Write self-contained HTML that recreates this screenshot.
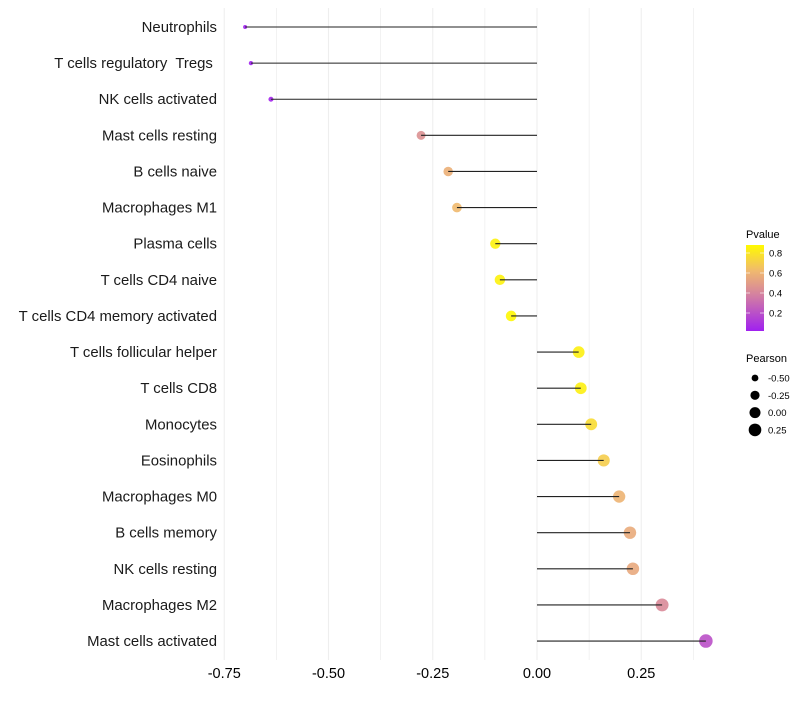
<!DOCTYPE html>
<html><head><meta charset="utf-8"><style>
html,body{margin:0;padding:0;background:#fff;}
svg text{font-family:"Liberation Sans",sans-serif;white-space:pre;}
</style></head><body>
<svg id="chart" width="800" height="700"></svg>
<script>
const categories=["Neutrophils","T cells regulatory  Tregs ","NK cells activated","Mast cells resting","B cells naive","Macrophages M1","Plasma cells","T cells CD4 naive","T cells CD4 memory activated","T cells follicular helper","T cells CD8","Monocytes","Eosinophils","Macrophages M0","B cells memory","NK cells resting","Macrophages M2","Mast cells activated"];
const pearson=[-0.70,-0.686,-0.638,-0.278,-0.213,-0.192,-0.10,-0.089,-0.062,0.10,0.105,0.13,0.16,0.197,0.223,0.23,0.30,0.405];
const pvalue=[0.02,0.02,0.04,0.45,0.58,0.62,0.85,0.85,0.87,0.84,0.84,0.76,0.7,0.6,0.56,0.55,0.42,0.2];
const xTicks=[-0.75,-0.5,-0.25,0,0.25];
const xTickLabels=["-0.75","-0.50","-0.25","0.00","0.25"];
const colorTicks=[0.2,0.4,0.6,0.8];
const sizeTicks=[-0.5,-0.25,0,0.25];
const sizeTickLabels=["-0.50","-0.25","0.00","0.25"];

const NS="http://www.w3.org/2000/svg";
const svg=document.getElementById('chart');
function mk(t,a,p){const e=document.createElementNS(NS,t);for(const k in a)e.setAttribute(k,a[k]);(p||svg).appendChild(e);return e;}
const x=v=>537+v*417;
const y=i=>27+i*36.12;
const pMin=0.02,pMax=0.88;
function lerp(a,b,t){return a+(b-a)*t;}
function col(p){
  let t=Math.max(0,Math.min(1,(p-pMin)/(pMax-pMin)));
  const st=[[0,[160,32,240]],[0.45,[215,135,155]],[0.7,[240,185,110]],[1,[255,250,0]]];
  for(let i=1;i<st.length;i++){if(t<=st[i][0]){const u=(t-st[i-1][0])/(st[i][0]-st[i-1][0]);const a=st[i-1][1],b=st[i][1];return `rgb(${Math.round(lerp(a[0],b[0],u))},${Math.round(lerp(a[1],b[1],u))},${Math.round(lerp(a[2],b[2],u))})`;}}
  return 'rgb(255,250,0)';
}
const sMin=-0.70,sMax=0.41;
const rad=v=>Math.sqrt(4+(v-sMin)/(sMax-sMin)*42);

const grid=mk('g',{});


for(let k=0;k<10;k++){const v=-0.75+k*0.125;mk('line',{x1:x(v),x2:x(v),y1:8,y2:660,stroke:'#eeeeee','stroke-width':k%2===0?1.1:0.7},grid);}
xTicks.forEach((v,i)=>{const t=mk('text',{x:x(v),y:678,'font-size':14.5,'text-anchor':'middle',fill:'#000'});t.textContent=xTickLabels[i];

});
categories.forEach((c,i)=>{
  const t=mk('text',{x:217,y:y(i)+5,'font-size':14.9,'text-anchor':'end',fill:'#1a1a1a'});t.textContent=c;
  
  
  const pt=mk('circle',{cx:x(pearson[i]),cy:y(i),r:rad(pearson[i]),fill:col(pvalue[i]),opacity:0.9});
  
  
  const ln=mk('line',{x1:x(0),x2:x(pearson[i]),y1:y(i),y2:y(i),stroke:'#222','stroke-width':1.1});
  
  
});
const lg=mk('g',{});


mk('text',{x:746,y:238,'font-size':11,fill:'#000'},lg).textContent='Pvalue';
const defs=mk('defs',{});
const gr=mk('linearGradient',{id:'cg',x1:0,y1:1,x2:0,y2:0},defs);
for(let k=0;k<=10;k++){mk('stop',{offset:k/10,'stop-color':col(pMin+(pMax-pMin)*k/10)},gr);}
mk('rect',{x:746,y:245,width:18,height:86,fill:'url(#cg)'},lg);
const cy=p=>331-(p-pMin)/(pMax-pMin)*86;
colorTicks.forEach(p=>{mk('line',{x1:746,x2:750,y1:cy(p),y2:cy(p),stroke:'#fff','stroke-width':0.6},lg);mk('line',{x1:760,x2:764,y1:cy(p),y2:cy(p),stroke:'#fff','stroke-width':0.6},lg);
const t=mk('text',{x:769,y:cy(p)+3.5,'font-size':9.5,fill:'#000'},lg);t.textContent=p.toFixed(1);});
const sg=mk('g',{});


mk('text',{x:746,y:362,'font-size':11,fill:'#000'},sg).textContent='Pearson';
sizeTicks.forEach((v,i)=>{const yy=378+i*17.3;mk('circle',{cx:755,cy:yy,r:rad(v),fill:'#000'},sg);
const t=mk('text',{x:768,y:yy+3.5,'font-size':9.5,fill:'#000'},sg);t.textContent=sizeTickLabels[i];});
</script>
</body></html>
